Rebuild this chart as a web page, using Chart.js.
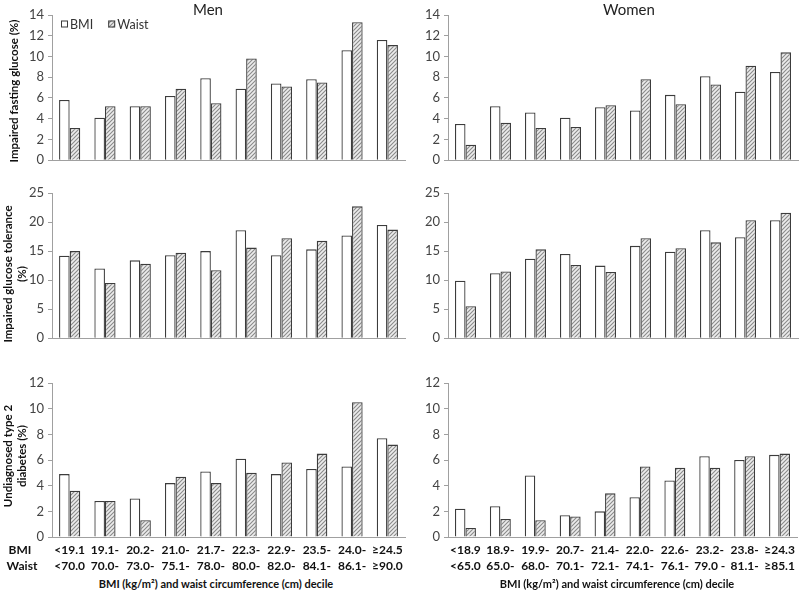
<!DOCTYPE html>
<html><head><meta charset="utf-8">
<script src="https://cdn.jsdelivr.net/npm/chart.js@4.4.1/dist/chart.umd.min.js"></script>
<style>
body{margin:0;width:800px;height:590px;background:#fff;position:relative;overflow:hidden;font-family:Lato,"DejaVu Sans",sans-serif;}
canvas{position:absolute;}
.t{position:absolute;white-space:nowrap;color:#222;transform:translate(-50%,-50%);}
.yt{position:absolute;font-weight:bold;font-size:11.5px;text-align:center;transform:translate(-50%,-50%) rotate(-90deg);line-height:14px;white-space:nowrap;color:#111}
.b{font-weight:bold;font-size:12px;color:#111}
.xt{font-weight:bold;font-size:11px;color:#111}
</style></head><body>
<canvas id="m1" width="410" height="172" style="left:0;top:0"></canvas>
<canvas id="w1" width="400" height="172" style="left:400px;top:0"></canvas>
<canvas id="m2" width="410" height="170" style="left:0;top:180px"></canvas>
<canvas id="w2" width="400" height="170" style="left:400px;top:180px"></canvas>
<canvas id="m3" width="410" height="205" style="left:0;top:370px"></canvas>
<canvas id="w3" width="400" height="205" style="left:400px;top:370px"></canvas>

<div class="t" style="left:208px;top:9px;font-size:15px">Men</div>
<div class="t" style="left:629px;top:9px;font-size:15px">Women</div>
<div class="yt" style="left:14px;top:91px">Impaired fasting glucose (%)</div>
<div class="yt" style="left:15px;top:274px">Impaired glucose tolerance<br>(%)</div>
<div class="yt" style="left:15px;top:456px">Undiagnosed type 2<br>diabetes (%)</div>
<div class="t b" style="left:20px;top:549px">BMI</div>
<div class="t b" style="left:22px;top:565px">Waist</div>
<div class="t xt" style="left:216px;top:583px">BMI (kg/m²) and waist circumference (cm) decile</div>
<div class="t xt" style="left:617px;top:583px">BMI (kg/m²) and waist circumference (cm) decile</div>

<script>
// ---- data ----
const menBmiLabels   = ["<19.1","19.1-","20.2-","21.0-","21.7-","22.3-","22.9-","23.5-","24.0-","≥24.5"];
const menWaistLabels = ["<70.0","70.0-","73.0-","75.1-","78.0-","80.0-","82.0-","84.1-","86.1-","≥90.0"];
const womenBmiLabels   = ["<18.9","18.9-","19.9-","20.7-","21.4-","22.0-","22.6-","23.2-","23.8-","≥24.3"];
const womenWaistLabels = ["<65.0","65.0-","68.0-","70.1-","72.1-","74.1-","76.1-","79.0 -","81.1-","≥85.1"];
const seriesNames = ["BMI","Waist"];

const menIfgBmi   = [5.8,4.1,5.2,6.2,7.9,6.9,7.4,7.8,10.6,11.6];
const menIfgWaist = [3.1,5.2,5.2,6.9,5.5,9.8,7.1,7.5,13.3,11.1];
const womenIfgBmi   = [3.5,5.2,4.6,4.1,5.1,4.8,6.3,8.1,6.6,8.5];
const womenIfgWaist = [1.5,3.6,3.1,3.2,5.3,7.8,5.4,7.3,9.1,10.4];

const menIgtBmi   = [14.2,12.0,13.4,14.3,15.0,18.6,14.3,15.3,17.7,19.5];
const menIgtWaist = [15.0,9.5,12.8,14.7,11.7,15.6,17.2,16.8,22.7,18.7];
const womenIgtBmi   = [9.9,11.2,13.7,14.5,12.5,15.9,14.9,18.6,17.4,20.3];
const womenIgtWaist = [5.5,11.5,15.3,12.6,11.4,17.2,15.5,16.5,20.3,21.6];

const menDmBmi   = [4.9,2.8,3.0,4.2,5.1,6.1,4.9,5.3,5.5,7.7];
const menDmWaist = [3.6,2.8,1.3,4.7,4.2,5.0,5.8,6.5,10.5,7.2];
const womenDmBmi   = [2.2,2.4,4.8,1.7,2.0,3.1,4.4,6.3,6.0,6.4];
const womenDmWaist = [0.7,1.4,1.3,1.6,3.4,5.5,5.4,5.4,6.3,6.5];

// ---- styling ----
const F = 'Lato, "DejaVu Sans", sans-serif';
function hatch(){
  const c=document.createElement('canvas'); c.width=4; c.height=4;
  const g=c.getContext('2d');
  g.fillStyle='#ececec'; g.fillRect(0,0,4,4);
  g.strokeStyle='#8a8a8a'; g.lineWidth=1.1;
  g.beginPath(); g.moveTo(0,4); g.lineTo(4,0); g.moveTo(-1,1); g.lineTo(1,-1); g.moveTo(3,5); g.lineTo(5,3); g.stroke();
  return g.createPattern(c,'repeat');
}
const pat = hatch();

// legend drawn in one row inside the plot area, from the datasets' own styles
const innerLegend = {
  id:'innerLegend',
  afterDraw(chart, args, opts){
    if(!opts.show) return;
    const ctx=chart.ctx, a=chart.chartArea;
    let x=a.left+9; const y=a.top+9;
    ctx.save();
    ctx.font='12.5px '+F; ctx.textBaseline='middle'; ctx.textAlign='left';
    chart.data.datasets.forEach(ds=>{
      ctx.fillStyle=ds.backgroundColor; ctx.fillRect(x,y-3.5,7,7);
      ctx.strokeStyle=ds.borderColor; ctx.lineWidth=1; ctx.strokeRect(x+0.5,y-3,6,6);
      ctx.fillStyle='#333'; ctx.fillText(ds.label,x+9,y+0.5);
      x += 9 + ctx.measureText(ds.label).width + 15;
    });
    ctx.restore();
  }
};

function make(id, bmiLab, waistLab, bmi, waist, yMax, step, o){
  const labels = bmiLab.map((b,i)=>[b, waistLab[i]]);
  new Chart(document.getElementById(id), {
    type:'bar',
    data:{labels, datasets:[
      {label:seriesNames[0], data:bmi, backgroundColor:'#ffffff', borderColor:'#3c3c3c', borderWidth:1.3},
      {label:seriesNames[1], data:waist, backgroundColor:pat, borderColor:'#3c3c3c', borderWidth:1.3}
    ]},
    plugins:[innerLegend],
    options:{
      responsive:false, animation:false, devicePixelRatio:1,
      categoryPercentage:0.6, barPercentage:1.0,
      layout:{padding:{top:o.top,right:o.right,left:0,bottom:0}},
      plugins:{
        tooltip:{enabled:false},
        legend:{display:false},
        innerLegend:{show:!!o.legend}
      },
      scales:{
        x:{grid:{drawOnChartArea:false,drawTicks:false},border:{color:'#a0a0a0',width:1},
           ticks:{display:!!o.xticks, maxRotation:0, autoSkip:false, padding:5, color:'#111',
                  font:{family:F,size:12,weight:'bold',lineHeight:1.33}},
           afterFit(s){s.height=o.xh;}},
        y:{min:0,max:yMax,
           ticks:{stepSize:step,color:'#444',padding:4,font:{family:F,size:13}},
           grid:{drawOnChartArea:false,drawTicks:true,tickLength:4,color:'#a0a0a0'},
           border:{color:'#a0a0a0',width:1},
           afterFit(s){s.width=o.yw;}}
      }
    }
  });
}
make('m1',menBmiLabels,menWaistLabels,menIfgBmi,menIfgWaist,14,2,{top:15,right:5,yw:52,xh:4,legend:true});
make('w1',womenBmiLabels,womenWaistLabels,womenIfgBmi,womenIfgWaist,14,2,{top:15,right:2,yw:48,xh:4});
make('m2',menBmiLabels,menWaistLabels,menIgtBmi,menIgtWaist,25,5,{top:13,right:5,yw:52,xh:4});
make('w2',womenBmiLabels,womenWaistLabels,womenIgtBmi,womenIgtWaist,25,5,{top:13,right:2,yw:48,xh:4});
make('m3',menBmiLabels,menWaistLabels,menDmBmi,menDmWaist,12,2,{top:13,right:5,yw:52,xh:38,xticks:true});
make('w3',womenBmiLabels,womenWaistLabels,womenDmBmi,womenDmWaist,12,2,{top:13,right:2,yw:48,xh:38,xticks:true});
</script>
</body></html>
